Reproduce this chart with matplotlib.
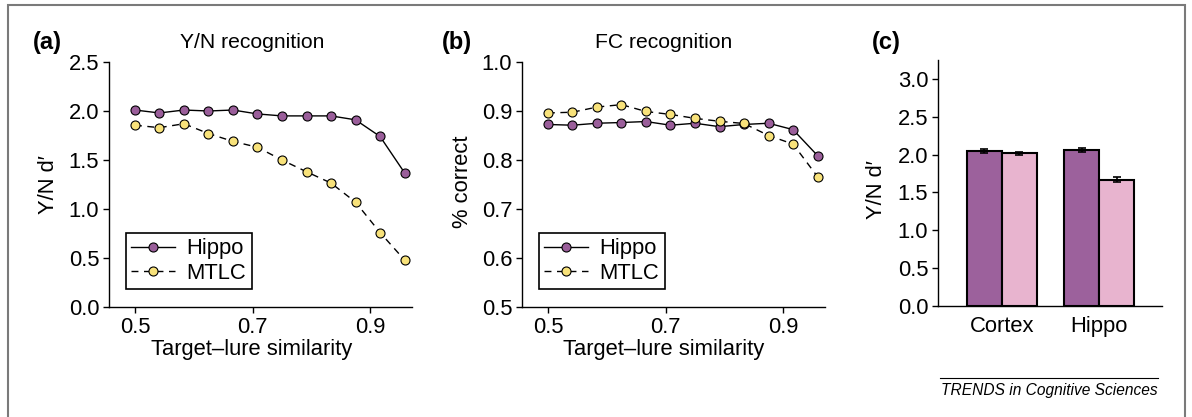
import matplotlib
matplotlib.use("Agg")
import matplotlib.pyplot as plt
from matplotlib.patches import Rectangle
from matplotlib.lines import Line2D

plt.rcParams['font.family'] = ['Liberation Sans', 'DejaVu Sans']

# ---- data ----
similarity = [0.5, 0.5417, 0.5833, 0.625, 0.6667, 0.7083, 0.75, 0.7917, 0.8333, 0.875, 0.9167, 0.9583]
yn_hippo = [2.01, 1.98, 2.01, 2.00, 2.01, 1.97, 1.95, 1.95, 1.95, 1.91, 1.74, 1.37]
yn_mtlc = [1.855, 1.83, 1.87, 1.77, 1.69, 1.63, 1.50, 1.38, 1.265, 1.07, 0.76, 0.48]
fc_hippo = [0.8725, 0.871, 0.875, 0.8765, 0.8785, 0.871, 0.875, 0.868, 0.8725, 0.875, 0.862, 0.809]
fc_mtlc = [0.896, 0.8975, 0.908, 0.913, 0.899, 0.893, 0.885, 0.879, 0.8745, 0.85, 0.8325, 0.766]
bar_groups = ['Cortex', 'Hippo']
bar_dark = [2.05, 2.06]
bar_light = [2.02, 1.67]
err_dark = [0.03, 0.03]
err_light = [0.02, 0.03]
x_ticks = [0.5, 0.7, 0.9]
x_tick_labels = ['0.5', '0.7', '0.9']

W, H = 1192, 417
fig = plt.figure(figsize=(W / 100, H / 100), dpi=100)

def ax_rect(left, top, right, bottom):
    return [left / W, 1 - bottom / H, (right - left) / W, (bottom - top) / H]

PURPLE = '#9a5e9a'
YELLOW = '#f8e27a'
BAR_DARK = '#9c619c'
BAR_LIGHT = '#e8b4cf'
FS = 15.8
FT = 15.2

def style(ax):
    for s in ['top', 'right']:
        ax.spines[s].set_visible(False)
    for s in ['left', 'bottom']:
        ax.spines[s].set_linewidth(1.0)
    ax.tick_params(direction='out', length=4, width=1, labelsize=FS, pad=3)

def line_panel(ax, hippo, mtlc, ylim, yticks, yfmt):
    ax.plot(similarity, hippo, '-', color='black', lw=1.0, marker='o', ms=6.5,
            mfc=PURPLE, mec='black', mew=0.8, label='Hippo', zorder=3)
    ax.plot(similarity, mtlc, '--', color='black', lw=1.0, dashes=(5, 4), marker='o', ms=6.5,
            mfc=YELLOW, mec='black', mew=0.8, label='MTLC', zorder=3)
    ax.set_xlim(0.456, 0.971)
    ax.set_ylim(*ylim)
    ax.set_yticks(yticks)
    ax.set_yticklabels([yfmt % v for v in yticks])
    ax.set_xticks(x_ticks)
    ax.set_xticklabels(x_tick_labels)
    style(ax)
    leg = ax.legend(loc='lower left', bbox_to_anchor=(0.056, 0.073), fontsize=FS,
                    frameon=True, fancybox=False, framealpha=1, edgecolor='black',
                    handlelength=2.0, handletextpad=0.5, borderpad=0.25, labelspacing=0.15,
                    borderaxespad=0)
    leg.get_frame().set_linewidth(1.2)

# panel a
axa = fig.add_axes(ax_rect(109, 62, 412, 307))
line_panel(axa, yn_hippo, yn_mtlc, (0, 2.5), [0, 0.5, 1.0, 1.5, 2.0, 2.5], '%.1f')
fig.text(48 / W, 1 - 185 / H, 'Y/N d\u2032', rotation=90, ha='center', va='center', fontsize=FS)
fig.text(252 / W, 1 - 350 / H, 'Target\u2013lure similarity', ha='center', va='center', fontsize=FS)
fig.text(252 / W, 1 - 42 / H, 'Y/N recognition', ha='center', va='center', fontsize=FT)
fig.text(33 / W, 1 - 42 / H, '(a)', ha='left', va='center', fontsize=17, fontweight='bold')

# panel b
axb = fig.add_axes(ax_rect(522, 62, 825, 307))
line_panel(axb, fc_hippo, fc_mtlc, (0.5, 1.0), [0.5, 0.6, 0.7, 0.8, 0.9, 1.0], '%.1f')
fig.text(462 / W, 1 - 182 / H, '% correct', rotation=90, ha='center', va='center', fontsize=FS)
fig.text(664 / W, 1 - 350 / H, 'Target\u2013lure similarity', ha='center', va='center', fontsize=FS)
fig.text(664 / W, 1 - 42 / H, 'FC recognition', ha='center', va='center', fontsize=FT)
fig.text(442 / W, 1 - 42 / H, '(b)', ha='left', va='center', fontsize=17, fontweight='bold')

# panel c
axc = fig.add_axes(ax_rect(938, 60, 1162, 306))
bw = 0.359
xs = list(range(len(bar_groups)))
axc.bar([x - bw / 2 for x in xs], bar_dark, width=bw, color=BAR_DARK, edgecolor='black',
        linewidth=1.5, yerr=err_dark, capsize=3, error_kw=dict(elinewidth=1.2, capthick=1.2), zorder=2)
axc.bar([x + bw / 2 for x in xs], bar_light, width=bw, color=BAR_LIGHT, edgecolor='black',
        linewidth=1.5, yerr=err_light, capsize=3, error_kw=dict(elinewidth=1.2, capthick=1.2), zorder=2)
axc.set_xlim(-0.653, 1.644)
axc.set_ylim(0, 3.25)
axc.set_yticks([0, 0.5, 1.0, 1.5, 2.0, 2.5, 3.0])
axc.set_yticklabels(['%.1f' % v for v in [0, 0.5, 1.0, 1.5, 2.0, 2.5, 3.0]])
axc.set_xticks(xs)
axc.set_xticklabels(bar_groups)
style(axc)
axc.tick_params(axis='x', length=0, pad=7)
fig.text(877 / W, 1 - 190 / H, 'Y/N d\u2032', rotation=90, ha='center', va='center', fontsize=FS)
fig.text(872 / W, 1 - 43 / H, '(c)', ha='left', va='center', fontsize=17, fontweight='bold')

# footer
fig.add_artist(Line2D([940 / W, 1158 / W], [1 - 378 / H, 1 - 378 / H], color='black', lw=0.8,
                      transform=fig.transFigure))
fig.text(1158 / W, 1 - 391 / H, 'TRENDS in Cognitive Sciences', ha='right', va='center',
         fontsize=11.2, style='italic')

# outer frame
fig.add_artist(Rectangle((8 / W, -0.05), (1185 - 8) / W, 1.05 - 5 / H, transform=fig.transFigure,
                         fill=False, edgecolor='#7a7a7a', lw=1.5))

fig.savefig('out.png', dpi=100)
